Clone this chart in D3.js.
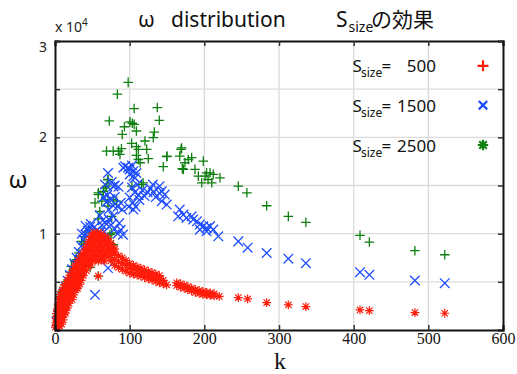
<!DOCTYPE html>
<html><head><meta charset="utf-8">
<script src="https://cdn.jsdelivr.net/npm/d3@7/dist/d3.min.js"></script>
<style>
html,body{margin:0;padding:0;background:#fff;}
svg{display:block;}
text{white-space:pre;}
</style></head>
<body><svg id="c" width="517" height="374"></svg>
<script>
const xTicks = [0,100,200,300,400,500,600];
const yTicks = [5000,10000,15000,20000,25000,30000];
const yTickLabels = {10000:"1",20000:"2",30000:"3"};
const legendLabels = ["500","1500","2500"];

const greenData = [
 [3,1200],[5,2000],[7,3500],[9,3990],[11,4170],[13.4,4690],[16,5000],[17.8,5200],[20,6000],[22,6600],[24.5,6250],[26.8,7120],[29,7290],[32,8000],[35.7,9200],[38,8930],[40,9700],[47,6500],[58,5600],
 [45,10300],[53.6,13200],[58,14060],[58,14240],[64.7,14400],[67,14750],[71,15600],[69,14930],[78,13540],[71,12850],[76,11800],[58,11530],[76,10070],[73.7,9900],[78,8850],[62.5,13370],[82.6,13370],[71,13540],[60,12300],
 [98,25700],[83.5,24480],[106,22990],[137,23090],[139.7,21770],[72.7,21700],[100.4,21600],[103.5,21460],[106,21350],[93,21100],[109,20660],[90,20300],[133,20550],[131.6,19970],[120.5,19620],[102.7,19370],[109,19030],[111.6,18750],[122.8,18750],[69,18570],[78,18570],[85,18570],[89,18820],[87,18230],[109,18120],[111.6,17700],[125,17780],[149.6,17990],[168.7,18750],[167,18050],[145,16950],[170.5,16740],[116,15100],[71,15625],[114,17360],[118,15280],[103,14930],
 [169.6,18900],[150,18050],[183,17900],[178.5,17700],[174,17360],[198.6,17530],[172,16670],[187.5,16670],[203,16320],[207.6,16320],[212,16150],[201,15970],[192,15970],[205,15625],[221,15800],[196.5,15280],[210,15280],
 [245.5,14930],[257,14240],[283.5,12900],[312.5,11800],[336,11180],[408.5,9830],[421,9130],[482,8230],[522,7810]
];

const blueData = [
 [2,900],[4,1500],[6,2200],[8,2800],[10,3400],[12,3900],[14,4500],[17,5100],[20,5700],[23,6300],[26,6900],[29,7500],[32,8100],[35,8700],[38,9400],[41,9900],[44,10300],[47,10700],
 [15,3300],[25,5000],[33,6800],
 [36,10000],[41,10800],[48,11000],[53,10700],[56,10300],[60,10100],[63,10900],
 [53.6,3650],[71,6430],
 [60,11900],[64,11400],[69,11000],[72,11500],[75,10900],[80,10500],[84,10000],[88,10400],[91,9900],[66,10200],[78,11800],[86,11100],
 [71,16300],[67,15100],[78,14900],[76,15350],[80,15000],[85,14860],[70,14000],[74,13600],[65,13800],[69,13300],[78,12900],[72,12500],[84,12800],[88,13200],[90,12500],[80,13800],
 [94,17000],[98,16840],[103,17080],[91.5,16840],[100,16670],[105,16490],[109,16300],[107,15800],[100,16150],[105,15970],
 [103,14800],[107,14300],[112,14000],[117,14500],[120,13900],[124,14300],[128,14700],[132,14300],[135,13800],[140,14200],[131,15100],[140,14930],[110,15100],[100,13750],[104,13200],[108,12800],[113,13500],[99,12800],[105,12500],
 [143,14400],[147,14060],[143,13370],[149.6,13020],
 [167,12500],[172,11980],[165,11800],[176,11630],[183,11800],[185,11460],[190,11280],[194,10940],[198.6,10760],[203,10590],[207.6,10760],[212,10420],[218.7,9720],[194,10420],[203,10240],
 [245.5,9200],[258,8550],[283.5,7990],[312.5,7400],[336,6940],[408.5,6000],[421,5730],[482,5140],[522,4860]
];

const redData = [
 [0.5,300],[2,480],[4,220],[6,400],
 [1,750],[3,900],[5,650],[7,800],[9,600],
 [1.5,1200],[3.5,1350],[6,1100],[8.5,1300],[11,1050],
 [2,1700],[4.5,1850],[7,1650],[9.5,1800],[12,1600],[14,1750],
 [3,2200],[5.5,2350],[8,2150],[11,2300],[14,2100],[16.5,2300],
 [4,2700],[7,2850],[10,2650],[13,2800],[16,2600],[19,2750],
 [5.5,3200],[8,3350],[11,3150],[14,3300],[17,3100],[20,3300],[23,3150],
 [7,3700],[10,3850],[13,3650],[16,3800],[19,3600],[22,3800],[25,3650],
 [10,4200],[13,4350],[16,4150],[19,4300],[22,4100],[25,4300],[28,4150],[30,4300],
 [13,4700],[16,4850],[19,4650],[22,4800],[25,4600],[28,4800],[31,4650],[33,4750],
 [17,5200],[20,5350],[23,5150],[26,5300],[29,5100],[32,5300],[35,5150],
 [20,5700],[23,5850],[26,5650],[29,5800],[32,5600],[35,5800],[38,5650],
 [24,6200],[27,6350],[30,6150],[33,6300],[36,6100],[39,6300],[42,6150],
 [27,6700],[30,6850],[33,6650],[36,6800],[39,6600],[42,6800],[45,6650],[48,6750],
 [31,7200],[34,7350],[37,7150],[40,7300],[43,7100],[46,7300],[50,7150],[54,7300],[58,7150],[62,7300],[66,7150],
 [35,7700],[38,7850],[41,7650],[44,7800],[47,7600],[51,7800],[55,7650],[59,7800],[63,7600],[67,7800],[71,7650],[75,7750],
 [39,8200],[42,8350],[45,8150],[48,8300],[52,8100],[56,8300],[60,8150],[64,8300],[68,8100],[72,8250],[76,8100],
 [42,8700],[45,8850],[48,8650],[52,8800],[56,8600],[60,8800],[64,8650],[68,8800],[72,8600],[78,8500],
 [45,9200],[48,9350],[51,9150],[55,9300],[59,9100],[63,9300],[67,9150],[71,9100],[75,9000],
 [48,9700],[51,9850],[55,9650],[59,9800],[63,9600],[67,9700],[71,9500],
 [52,10100],[57,10050],[62,10000],
 [75,7200],[80,6700],[80,7300],[80,7900],[80,8400],[85,6500],[85,7100],[85,7700],[90,6300],[90,6900],[90,7500],
 [95,6100],[95,6700],[95,7200],[100,5900],[100,6400],[100,6900],[105,5800],[105,6300],[105,6700],
 [110,5700],[110,6150],[110,6550],[115,5600],[115,6000],[115,6400],[120,5450],[120,5850],[120,6250],
 [125,5300],[125,5700],[125,6100],[130,5200],[130,5600],[130,5950],[135,5050],[135,5450],[135,5800],
 [140,4900],[140,5300],[140,5650],[145,4800],[145,5150],[149.5,4690],
 [163,4900],[163,4600],[168,4800],[168,4450],[173,4650],[173,4350],[178,4500],[178,4200],
 [183,4350],[183,4050],[188,4200],[188,3900],[193,4100],[193,3800],[198,4000],[198,3700],
 [203,3900],[203,3650],[208,3850],[208,3600],[213,3750],[213,3550],[220,3500],
 [58,5600],
 [245.5,3370],[258,3230],[283.5,2850],[312.5,2600],[336,2430],[408.5,2080],[421,2010],[482,1810],[522,1740]
];

const svg = d3.select("#c");
const L = 55, R = 503, T = 41, B = 330;
const x = d3.scaleLinear().domain([0,600]).range([L,R]);
const y = d3.scaleLinear().domain([0,30000]).range([B,T]);

const GREEN = "#0f7f0f", BLUE = "#1d4cff", RED = "#ff1c0a";

// grid
const grid = svg.append("g");
grid.selectAll("line.gx").data(xTicks.slice(1,-1)).enter().append("line")
  .attr("x1", d=>x(d)).attr("x2", d=>x(d)).attr("y1", T).attr("y2", B)
  .attr("stroke", "#dcdcdc").attr("stroke-width", 1.4);
grid.selectAll("line.gy").data(yTicks.slice(0,-1)).enter().append("line")
  .attr("y1", d=>y(d)).attr("y2", d=>y(d)).attr("x1", L).attr("x2", R)
  .attr("stroke", "#dcdcdc").attr("stroke-width", 1.4);

// markers
const plus = s => `M${-s},0H${s}M0,${-s}V${s}`;
const cross = s => `M${-s},${-s}L${s},${s}M${-s},${s}L${s},${-s}`;
const star = s => plus(s) + cross(s*0.72);

function series(data, path, color, sw) {
  svg.append("g").selectAll("path").data(data).enter().append("path")
    .attr("transform", d => `translate(${x(d[0])},${y(d[1])})`)
    .attr("d", path).attr("fill", "none").attr("stroke", color).attr("stroke-width", sw);
}
series(greenData, plus(4.8), GREEN, 1.3);
series(blueData, cross(4.8), BLUE, 1.3);
series(redData, star(4.4), RED, 1.2);

// axes
const ax = svg.append("g").attr("class","axes");
const xb = ax.append("g").attr("transform", `translate(0,${B})`)
  .call(d3.axisBottom(x).tickValues(xTicks).tickSize(-5).tickPadding(2).tickFormat(d3.format("d")));
const xt = ax.append("g").attr("transform", `translate(0,${T})`)
  .call(d3.axisTop(x).tickValues(xTicks).tickSize(-5).tickFormat(""));
const yl = ax.append("g").attr("transform", `translate(${L},0)`)
  .call(d3.axisLeft(y).tickValues(yTicks).tickSize(-5).tickPadding(8).tickFormat(d => yTickLabels[d] || ""));
const yr = ax.append("g").attr("transform", `translate(${R},0)`)
  .call(d3.axisRight(y).tickValues(yTicks).tickSize(-5).tickFormat(""));
ax.selectAll(".domain").attr("stroke", "#111").attr("stroke-width", 2);
ax.selectAll(".tick line").attr("stroke", "#333").attr("stroke-width", 1.5);
xb.selectAll("text").attr("font-family", "'Liberation Serif', 'DejaVu Serif', serif")
  .attr("font-size", 16).attr("fill", "#111").attr("dy", "0.72em");
yl.selectAll("text").attr("font-family", "'Noto Sans', sans-serif")
  .attr("font-size", 14).attr("fill", "#222");
yl.selectAll(".tick").filter(d => d === 30000).select("text").attr("dy", "0.75em");

// title
const sans = "'Noto Sans', 'Noto Sans CJK JP', sans-serif";
const title = svg.append("text").attr("y", 27).attr("font-family", sans).attr("font-size", 21).attr("fill", "#111");
title.append("tspan").attr("x", 138).text("ω");
title.append("tspan").attr("x", 171).text("distribution");
const t2 = svg.append("text").attr("y", 27).attr("font-family", sans).attr("font-size", 21).attr("fill", "#111");
t2.append("tspan").attr("x", 336).text("S");
t2.append("tspan").attr("x", 348.5).attr("dy", 5).attr("font-size", 14).text("size");
t2.append("tspan").attr("x", 371).attr("dy", -5).attr("font-family", "'Noto Sans CJK JP', sans-serif").text("の効果");

// x10^4
const ex = svg.append("text").attr("x", 55).attr("y", 31.5).attr("font-family", sans).attr("font-size", 14).attr("fill", "#222");
ex.append("tspan").text("x 10");
ex.append("tspan").attr("dy", -6).attr("font-size", 10).text("4");

// axis labels
svg.append("text").attr("x", 280).attr("y", 369).attr("text-anchor", "middle")
  .attr("font-family", "'Liberation Serif', serif").attr("font-size", 24).attr("fill", "#111").text("k");
svg.append("text").attr("x", 18).attr("y", 188).attr("text-anchor", "middle")
  .attr("font-family", sans).attr("font-size", 24).attr("fill", "#111").text("ω");

// legend
const legY = [72.3, 111.7, 151.5];
const legSym = [[plus(5.5), RED, 2.2], [cross(4.2), BLUE, 2.2], [star(5.2), GREEN, 2.2]];
legendLabels.forEach((lab, i) => {
  const t = svg.append("text").attr("y", legY[i]).attr("font-family", sans).attr("font-size", 17).attr("fill", "#111");
  t.append("tspan").attr("x", 352.5).text("S");
  t.append("tspan").attr("x", 361).attr("dy", 5).attr("font-size", 12).text("size");
  t.append("tspan").attr("x", 381.5).attr("dy", -5).text("=");
  svg.append("text").attr("x", 436).attr("y", legY[i]).attr("text-anchor", "end")
    .attr("font-family", sans).attr("font-size", 17).attr("fill", "#111").text(lab);
  svg.append("path").attr("transform", `translate(483,${legY[i] - 6.5})`)
    .attr("d", legSym[i][0]).attr("fill", "none").attr("stroke", legSym[i][1]).attr("stroke-width", legSym[i][2]);
});
</script></body></html>
